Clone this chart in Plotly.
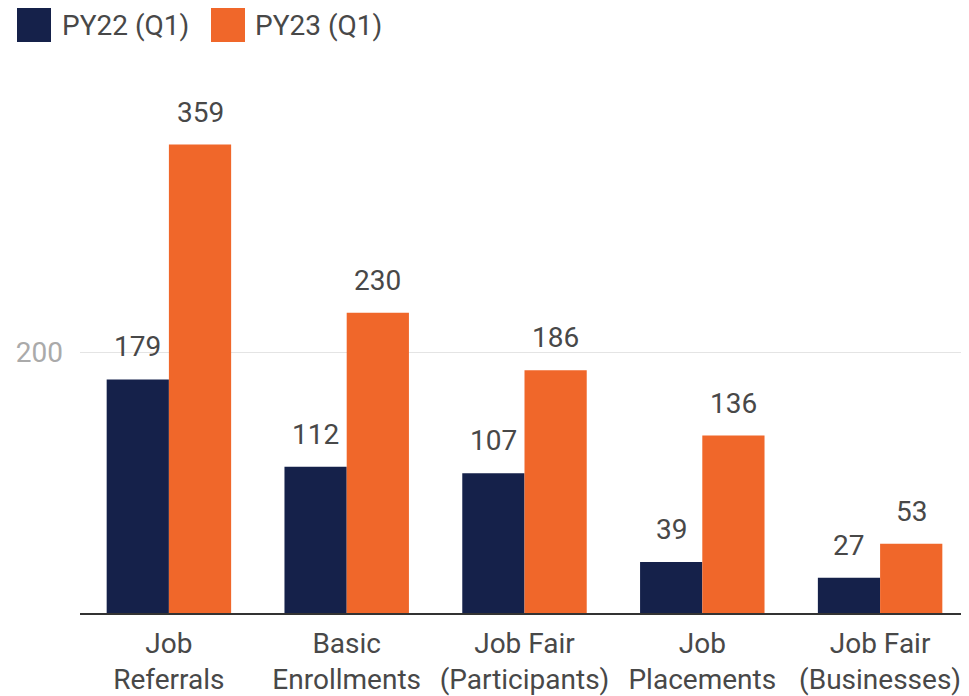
import plotly.graph_objects as go

# Data
categories = ["Job<br>Referrals", "Basic<br>Enrollments", "Job Fair<br>(Participants)",
              "Job<br>Placements", "Job Fair<br>(Businesses)"]
series_names = ["PY22 (Q1)", "PY23 (Q1)"]
py22_values = [179, 112, 107, 39, 27]
py23_values = [359, 230, 186, 136, 53]
y_tick_vals = [200]

COLORS = ["#15214a", "#f0672a"]
TEXT = "#484848"
FONT = "Roboto, Arial, sans-serif"

# page body adds an 8px offset, so the figure is drawn 8px smaller
OFF = 8
W, H = 969 - OFF, 696 - OFF
M = dict(l=80 - OFF, r=0, t=91 - OFF, b=83)
PLOT_W = W - M["l"] - M["r"]
PLOT_H = H - M["t"] - M["b"]


def px_x(x):
    # window pixel -> paper coordinate
    return (x - OFF - M["l"]) / PLOT_W


def px_y(y):
    return (H - M["b"] - (y - OFF)) / PLOT_H


fig = go.Figure()
for name, vals, color in zip(series_names, [py22_values, py23_values], COLORS):
    fig.add_trace(go.Bar(
        x=categories,
        y=vals,
        name=name,
        marker=dict(color=color, line=dict(width=0)),
        hoverinfo="x+y",
    ))

# value labels above bars
bar_gap = 0.30
half_bar = PLOT_W / len(categories) * (1 - bar_gap) / 4
for shift, vals in zip([-half_bar, half_bar], [py22_values, py23_values]):
    for cat, v in zip(categories, vals):
        fig.add_annotation(
            x=cat, y=v, text=str(v), showarrow=False,
            xshift=shift, yshift=14, yanchor="bottom",
            font=dict(family=FONT, size=28, color=TEXT),
        )

# legend drawn by hand so the swatches can be large
legend_items = [(17, 60), (211, 253)]
for (sx, tx), name, color in zip(legend_items, series_names, COLORS):
    fig.add_shape(
        type="rect", xref="paper", yref="paper",
        x0=px_x(sx), x1=px_x(sx + 34), y0=px_y(42), y1=px_y(8),
        fillcolor=color, line=dict(width=0),
    )
    fig.add_annotation(
        xref="paper", yref="paper", x=px_x(tx), y=px_y(25),
        text=name, showarrow=False, xanchor="left", yanchor="middle",
        font=dict(family=FONT, size=28, color=TEXT),
    )

fig.update_layout(
    width=W, height=H,
    margin=M,
    barmode="group",
    bargap=bar_gap,
    bargroupgap=0,
    showlegend=False,
    plot_bgcolor="white",
    paper_bgcolor="white",
    font=dict(family=FONT, size=28, color=TEXT),
)
fig.update_xaxes(
    showline=True, linecolor="#333333", linewidth=2,
    showgrid=False, ticks="",
    tickfont=dict(family=FONT, size=28, color=TEXT),
    ticklabelstandoff=4,
)
fig.update_yaxes(
    range=[0, 400],
    tickvals=y_tick_vals,
    showgrid=True, gridcolor="#e4e4e4", gridwidth=1,
    zeroline=False, showline=False,
    tickfont=dict(family=FONT, size=28, color="#aaaaaa"),
    ticklabelstandoff=16,
)

fig.write_html("out.html")
